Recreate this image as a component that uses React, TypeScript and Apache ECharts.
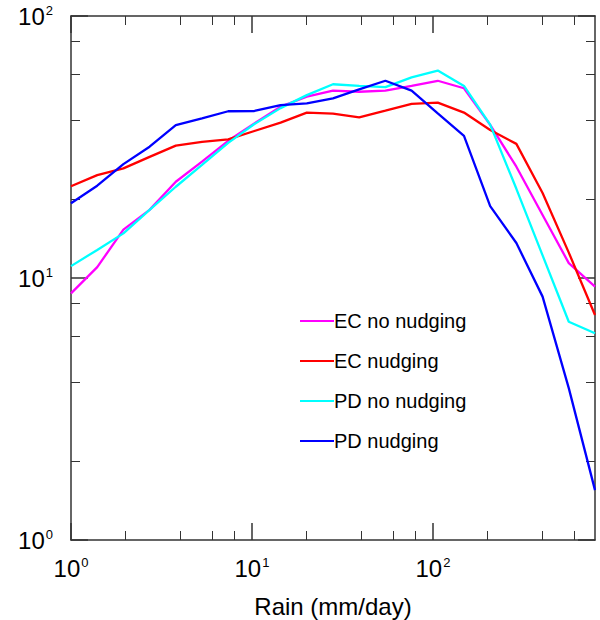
import React, { useEffect, useRef } from "react";
import * as echarts from "echarts";

// Rain bins (mm/day)
const rainBins = [1, 1.396, 1.948, 2.718, 3.794, 5.294, 7.389, 10.31, 14.39, 20.09, 28.03, 39.12, 54.6, 76.2, 106.3, 148.4, 207.1, 289.0, 403.4, 563.0, 785.9];

const ecNoNudging = [8.74, 11.0, 15.3, 18.2, 23.3, 27.8, 33.4, 38.9, 45.1, 49.2, 51.9, 51.4, 51.9, 54.1, 56.6, 53.0, 38.4, 26.6, 17.4, 11.4, 9.27];
const ecNudging = [22.4, 24.7, 26.2, 29.0, 32.0, 33.1, 33.8, 36.4, 39.2, 42.8, 42.4, 41.0, 43.5, 46.2, 46.7, 42.8, 36.7, 32.5, 21.1, 12.5, 7.22];
const pdNoNudging = [11.1, 12.8, 14.8, 18.2, 22.3, 27.0, 32.8, 38.7, 44.5, 49.9, 54.9, 54.1, 53.5, 58.3, 61.9, 54.1, 38.5, 21.9, 12.2, 6.81, 6.15];
const pdNudging = [19.3, 22.5, 27.2, 31.7, 38.3, 40.7, 43.3, 43.4, 45.7, 46.4, 48.5, 52.5, 56.6, 51.9, 42.5, 34.9, 18.8, 13.6, 8.49, 3.8, 1.55];

const seriesNames = ["EC no nudging", "EC nudging", "PD no nudging", "PD nudging"];
const seriesColors = ["#ff00ff", "#ff0000", "#00ffff", "#0000ff"];
const seriesValues = [ecNoNudging, ecNudging, pdNoNudging, pdNudging];

const xMajorTicks = [1, 10, 100];
const xMinorTicks = [2, 4, 6, 8, 20, 40, 60, 80, 200, 400, 600];
const yMajorTicks = [1, 10, 100];
const yMinorTicks = [2, 4, 6, 8, 20, 40, 60, 80];

const FONT = "Liberation Sans, Arial, Helvetica, sans-serif";
const AXIS_COLOR = "#333";

function powLabel(v: number) {
  const e = Math.round(Math.log10(v));
  return "10{s|" + e + "}";
}

const labelRich = {
  s: { fontSize: 13, fontFamily: FONT, color: "#000", verticalAlign: "top", padding: [0, 0, 6, 1] },
};

function makeX(position: string, major: boolean, showLine: boolean, withLabels: boolean) {
  return {
    type: "log",
    logBase: 10,
    min: 1,
    max: rainBins[rainBins.length - 1],
    position,
    gridIndex: 0,
    axisLine: { show: showLine, onZero: false, lineStyle: { color: AXIS_COLOR, width: 1.5 } },
    axisTick: {
      show: true,
      inside: true,
      customValues: major ? xMajorTicks : xMinorTicks,
      length: major ? 17 : 9,
      lineStyle: { color: AXIS_COLOR, width: major ? 1.5 : 1 },
    },
    minorTick: { show: false },
    splitLine: { show: false },
    axisLabel: withLabels
      ? {
          show: true,
          customValues: xMajorTicks,
          formatter: powLabel,
          fontSize: 24,
          fontFamily: FONT,
          color: "#000",
          margin: 16,
          rich: labelRich,
        }
      : { show: false },
    name: withLabels ? "Rain (mm/day)" : "",
    nameLocation: "middle",
    nameGap: 54,
    nameTextStyle: { fontSize: 24, fontFamily: FONT, color: "#000" },
  };
}

function makeY(position: string, major: boolean, showLine: boolean, withLabels: boolean) {
  return {
    type: "log",
    logBase: 10,
    min: 1,
    max: 100,
    position,
    gridIndex: 0,
    axisLine: { show: showLine, onZero: false, lineStyle: { color: AXIS_COLOR, width: 1.5 } },
    axisTick: {
      show: true,
      inside: true,
      customValues: major ? yMajorTicks : yMinorTicks,
      length: major ? 17 : 9,
      lineStyle: { color: AXIS_COLOR, width: major ? 1.5 : 1 },
    },
    minorTick: { show: false },
    splitLine: { show: false },
    axisLabel: withLabels
      ? {
          show: true,
          customValues: yMajorTicks,
          formatter: powLabel,
          fontSize: 24,
          fontFamily: FONT,
          color: "#000",
          margin: 18,
          rich: labelRich,
        }
      : { show: false },
  };
}

export default function App() {
  const ref = useRef<HTMLDivElement>(null);
  useEffect(() => {
    if (!ref.current) return;
    const chart = echarts.init(ref.current, undefined, { renderer: "svg" });
    const option: any = {
      animation: false,
      backgroundColor: "#fff",
      textStyle: { fontFamily: FONT },
      grid: { left: 71, right: 5, top: 16, bottom: 80, outerBoundsMode: "none", containLabel: false },
      legend: {
        show: true,
        orient: "vertical",
        left: 300,
        top: 311,
        padding: 0,
        itemWidth: 34,
        itemHeight: 2,
        itemGap: 20,
        icon: "rect",
        data: seriesNames,
        textStyle: { fontSize: 20, fontFamily: FONT, color: "#000", lineHeight: 20, padding: [0, 0, 0, -5] },
      },
      xAxis: [
        makeX("bottom", true, true, true),
        makeX("bottom", false, false, false),
        makeX("top", true, true, false),
        makeX("top", false, false, false),
      ],
      yAxis: [
        makeY("left", true, true, true),
        makeY("left", false, false, false),
        makeY("right", true, true, false),
        makeY("right", false, false, false),
      ],
      series: seriesNames.map((name, i) => ({
        name,
        type: "line",
        xAxisIndex: 0,
        yAxisIndex: 0,
        symbol: "none",
        showSymbol: false,
        clip: true,
        itemStyle: { color: seriesColors[i] },
        lineStyle: { color: seriesColors[i], width: 2.3 },
        data: rainBins.map((x, k) => [x, seriesValues[i][k]]),
      })),
    };
    chart.setOption(option);
    return () => chart.dispose();
  }, []);
  return (
    <div
      ref={ref}
      style={{ position: "absolute", left: 0, top: 0, width: 600, height: 620, background: "#fff" }}
    />
  );
}
